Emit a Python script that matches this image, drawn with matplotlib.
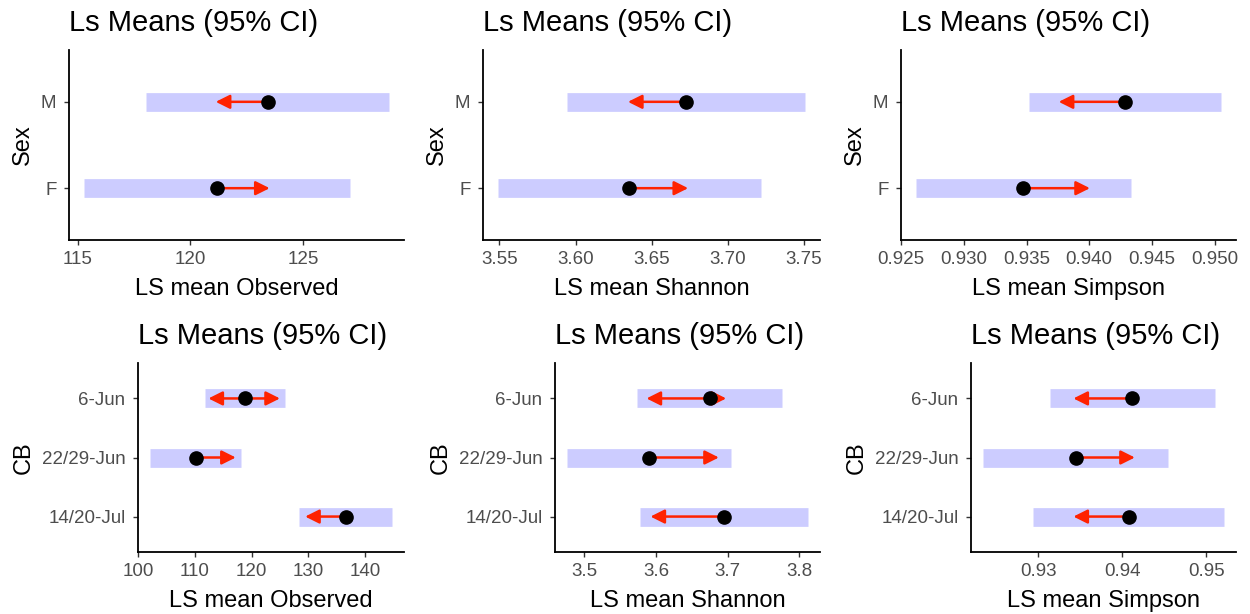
import matplotlib
matplotlib.use("Agg")
import matplotlib.pyplot as plt

plt.rcParams["font.family"] = ["Liberation Sans", "DejaVu Sans"]

# ---- data ----
sex_levels = ["F", "M"]
cb_levels = ["14/20-Jul", "22/29-Jun", "6-Jun"]

# Sex panels: order F, M
sex_obs_mean = [121.18, 123.43]
sex_obs_lo = [115.29, 118.02]
sex_obs_hi = [127.08, 128.79]
sex_obs_tip = [[123.51], [121.12]]

sex_sha_mean = [3.6353, 3.6722]
sex_sha_lo = [3.5493, 3.5943]
sex_sha_hi = [3.7215, 3.7504]
sex_sha_tip = [[3.6739], [3.6344]]

sex_sim_mean = [0.9347, 0.94285]
sex_sim_lo = [0.9262, 0.9352]
sex_sim_hi = [0.9433, 0.9505]
sex_sim_tip = [[0.94006], [0.93757]]

# CB panels: order 14/20-Jul, 22/29-Jun, 6-Jun
cb_obs_mean = [136.64, 110.14, 118.8]
cb_obs_lo = [128.45, 102.07, 111.73]
cb_obs_hi = [144.77, 118.1, 125.87]
cb_obs_tip = [[129.45], [117.2], [112.37, 125.0]]

cb_sha_mean = [3.6943, 3.5904, 3.6753]
cb_sha_lo = [3.5775, 3.4759, 3.5733]
cb_sha_hi = [3.8121, 3.7045, 3.7754]
cb_sha_tip = [[3.5923], [3.6878], [3.5868, 3.698]]

cb_sim_mean = [0.94074, 0.93444, 0.94116]
cb_sim_lo = [0.92934, 0.9234, 0.93139]
cb_sim_hi = [0.95209, 0.94544, 0.95098]
cb_sim_tip = [[0.93416], [0.94148], [0.93416]]

obs_ticks_sex = [115, 120, 125]
sha_ticks_sex = [3.55, 3.60, 3.65, 3.70, 3.75]
sim_ticks_sex = [0.925, 0.930, 0.935, 0.940, 0.945, 0.950]
obs_ticks_cb = [100, 110, 120, 130, 140]
sha_ticks_cb = [3.5, 3.6, 3.7, 3.8]
sim_ticks_cb = [0.93, 0.94, 0.95]

W, H = 1250, 614
fig = plt.figure(figsize=(W / 100, H / 100), dpi=100)

CI_COL = "#CCCCFF"
ARROW_COL = "#FF2200"
TICK_COL = "#4D4D4D"


def px_axes(left, right, top, bottom):
    return fig.add_axes([left / W, 1 - bottom / H, (right - left) / W, (bottom - top) / H])


def panel(ax, levels, mean, lo, hi, tips, ticks, fmt, xlabel, ylabel):
    ys = list(range(1, len(levels) + 1))
    ax.hlines(ys, lo, hi, colors=CI_COL, linewidth=13.5, capstyle="butt", zorder=1)
    for y, m, tl in zip(ys, mean, tips):
        for t in tl:
            ax.annotate("", xy=(t, y), xytext=(m, y),
                        arrowprops=dict(arrowstyle="-|>", color=ARROW_COL, lw=1.8,
                                        mutation_scale=21, shrinkA=0, shrinkB=0),
                        zorder=2)
    ax.plot(mean, ys, "o", color="black", markersize=9.5, zorder=3)

    xmin, xmax = min(lo), max(hi)
    pad = 0.05 * (xmax - xmin)
    ax.set_xlim(xmin - pad, xmax + pad)
    ax.set_ylim(0.4, len(levels) + 0.6)
    ax.set_yticks(ys)
    ax.set_yticklabels(levels)
    ax.set_xticks(ticks)
    ax.set_xticklabels([fmt.format(t) for t in ticks])

    for s in ["top", "right"]:
        ax.spines[s].set_visible(False)
    for s in ["left", "bottom"]:
        ax.spines[s].set_linewidth(1.3)
        ax.spines[s].set_color("black")
    ax.tick_params(axis="both", labelsize=13.5, labelcolor=TICK_COL, color="#333333",
                   length=3.5, width=1.0)
    ax.tick_params(axis="x", pad=4.5)
    ax.tick_params(axis="y", pad=5.5)
    ax.set_xlabel(xlabel, fontsize=17, labelpad=7)
    ax.set_ylabel(ylabel, fontsize=17, labelpad=5)
    ax.set_title("Ls Means (95% CI)", loc="left", fontsize=21, pad=13.5)


ax1 = px_axes(69, 404, 50, 240)
panel(ax1, sex_levels, sex_obs_mean, sex_obs_lo, sex_obs_hi, sex_obs_tip,
      obs_ticks_sex, "{:.0f}", "LS mean Observed", "Sex")
ax2 = px_axes(483, 820, 50, 240)
panel(ax2, sex_levels, sex_sha_mean, sex_sha_lo, sex_sha_hi, sex_sha_tip,
      sha_ticks_sex, "{:.2f}", "LS mean Shannon", "Sex")
ax3 = px_axes(901, 1236, 50, 240)
panel(ax3, sex_levels, sex_sim_mean, sex_sim_lo, sex_sim_hi, sex_sim_tip,
      sim_ticks_sex, "{:.3f}", "LS mean Simpson", "Sex")

ax4 = px_axes(138, 404, 363, 552)
panel(ax4, cb_levels, cb_obs_mean, cb_obs_lo, cb_obs_hi, cb_obs_tip,
      obs_ticks_cb, "{:.0f}", "LS mean Observed", "CB")
ax5 = px_axes(555, 820, 363, 552)
panel(ax5, cb_levels, cb_sha_mean, cb_sha_lo, cb_sha_hi, cb_sha_tip,
      sha_ticks_cb, "{:.1f}", "LS mean Shannon", "CB")
ax6 = px_axes(971, 1236, 363, 552)
panel(ax6, cb_levels, cb_sim_mean, cb_sim_lo, cb_sim_hi, cb_sim_tip,
      sim_ticks_cb, "{:.2f}", "LS mean Simpson", "CB")

fig.savefig("out.png", dpi=100)
